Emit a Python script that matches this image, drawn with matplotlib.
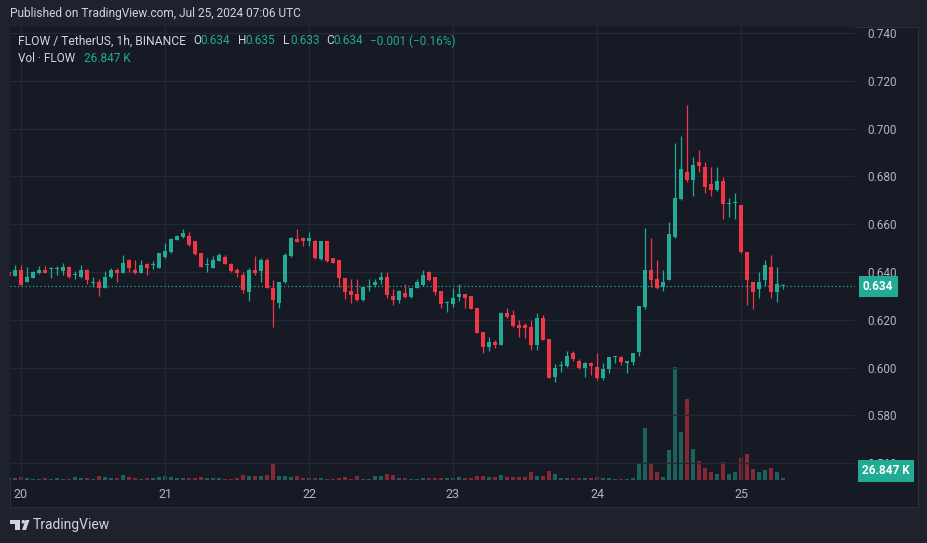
import numpy as np
import pandas as pd
import matplotlib
matplotlib.use('Agg')
import matplotlib.pyplot as plt
import matplotlib.transforms as mtransforms
from matplotlib.patches import Rectangle, Circle, Polygon

# FLOW/USDT 1h candles, Jul 19 22:00 -> Jul 25 07:00
opens = [0.6399, 0.6385, 0.6408, 0.6357, 0.6376, 0.6394, 0.6408, 0.6414, 0.6412, 0.6406,
         0.6422, 0.6387, 0.6378, 0.6408, 0.6356, 0.6360, 0.6334, 0.6378, 0.6408, 0.6397,
         0.6450, 0.6408, 0.6397, 0.6432, 0.6428, 0.6418, 0.6464, 0.6482, 0.6534, 0.6548,
         0.6552, 0.6530, 0.6478, 0.6428, 0.6418, 0.6447, 0.6461, 0.6432, 0.6408, 0.6387,
         0.6318, 0.6408, 0.6404, 0.6450, 0.6334, 0.6270, 0.6357, 0.6467, 0.6538, 0.6541,
         0.6530, 0.6530, 0.6454, 0.6530, 0.6457, 0.6450, 0.6373, 0.6322, 0.6308, 0.6283,
         0.6337, 0.6346, 0.6367, 0.6380, 0.6301, 0.6283, 0.6311, 0.6297, 0.6334, 0.6346,
         0.6401, 0.6378, 0.6320, 0.6271, 0.6265, 0.6297, 0.6306, 0.6300, 0.6251, 0.6150,
         0.6088, 0.6106, 0.6095, 0.6227, 0.6220, 0.6178, 0.6178, 0.6171, 0.6095, 0.6209,
         0.6119, 0.5962, 0.6008, 0.6007, 0.6062, 0.6029, 0.5997, 0.6018, 0.6001, 0.5955,
         0.5993, 0.6043, 0.6043, 0.6018, 0.6025, 0.6067, 0.6255, 0.6408, 0.6369, 0.6336,
         0.6367, 0.6545, 0.6705, 0.6820, 0.6785, 0.6862, 0.6841, 0.6768, 0.6743, 0.6782,
         0.6686, 0.6687, 0.6680, 0.6485, 0.6360, 0.6327, 0.6367, 0.6422, 0.6318, 0.6340]
highs = [0.6399, 0.6429, 0.6429, 0.6422, 0.6404, 0.6427, 0.6427, 0.6422, 0.6427, 0.6436,
         0.6427, 0.6404, 0.6429, 0.6411, 0.6380, 0.6371, 0.6404, 0.6418, 0.6418, 0.6471,
         0.6453, 0.6450, 0.6450, 0.6436, 0.6446, 0.6478, 0.6520, 0.6541, 0.6555, 0.6580,
         0.6569, 0.6530, 0.6478, 0.6457, 0.6468, 0.6478, 0.6471, 0.6436, 0.6418, 0.6401,
         0.6418, 0.6468, 0.6457, 0.6457, 0.6367, 0.6360, 0.6478, 0.6548, 0.6579, 0.6548,
         0.6569, 0.6534, 0.6530, 0.6530, 0.6457, 0.6450, 0.6376, 0.6371, 0.6371, 0.6339,
         0.6371, 0.6371, 0.6401, 0.6401, 0.6329, 0.6325, 0.6348, 0.6334, 0.6371, 0.6408,
         0.6406, 0.6380, 0.6320, 0.6279, 0.6332, 0.6348, 0.6306, 0.6300, 0.6251, 0.6150,
         0.6129, 0.6115, 0.6231, 0.6248, 0.6241, 0.6199, 0.6185, 0.6199, 0.6227, 0.6220,
         0.6119, 0.6014, 0.6028, 0.6071, 0.6071, 0.6034, 0.6025, 0.6025, 0.6062, 0.6018,
         0.6046, 0.6048, 0.6048, 0.6029, 0.6062, 0.6258, 0.6583, 0.6541, 0.6450, 0.6408,
         0.6611, 0.6941, 0.6969, 0.7099, 0.6880, 0.6911, 0.6862, 0.6841, 0.6841, 0.6796,
         0.6708, 0.6729, 0.6680, 0.6485, 0.6360, 0.6401, 0.6450, 0.6471, 0.6422, 0.6350]
lows = [0.6385, 0.6385, 0.6346, 0.6357, 0.6373, 0.6390, 0.6394, 0.6373, 0.6387, 0.6387,
        0.6376, 0.6371, 0.6376, 0.6348, 0.6339, 0.6301, 0.6332, 0.6376, 0.6360, 0.6394,
        0.6399, 0.6390, 0.6394, 0.6387, 0.6413, 0.6415, 0.6457, 0.6478, 0.6534, 0.6544,
        0.6510, 0.6471, 0.6420, 0.6401, 0.6415, 0.6446, 0.6432, 0.6401, 0.6380, 0.6311,
        0.6279, 0.6387, 0.6360, 0.6332, 0.6171, 0.6248, 0.6353, 0.6464, 0.6524, 0.6510,
        0.6510, 0.6454, 0.6450, 0.6443, 0.6436, 0.6339, 0.6287, 0.6269, 0.6278, 0.6280,
        0.6322, 0.6339, 0.6348, 0.6290, 0.6262, 0.6269, 0.6293, 0.6290, 0.6332, 0.6343,
        0.6362, 0.6304, 0.6251, 0.6231, 0.6255, 0.6279, 0.6251, 0.6245, 0.6143, 0.6060,
        0.6069, 0.6081, 0.6095, 0.6209, 0.6171, 0.6129, 0.6122, 0.6074, 0.6074, 0.6115,
        0.5958, 0.5941, 0.5983, 0.6001, 0.6029, 0.5993, 0.5962, 0.5969, 0.5948, 0.5948,
        0.5979, 0.6018, 0.6011, 0.5979, 0.6011, 0.6048, 0.6244, 0.6339, 0.6327, 0.6322,
        0.6365, 0.6541, 0.6703, 0.6778, 0.6718, 0.6820, 0.6732, 0.6718, 0.6740, 0.6620,
        0.6632, 0.6620, 0.6478, 0.6262, 0.6244, 0.6290, 0.6341, 0.6290, 0.6276, 0.6330]
closes = [0.6385, 0.6408, 0.6346, 0.6380, 0.6401, 0.6408, 0.6397, 0.6416, 0.6414, 0.6422,
          0.6380, 0.6389, 0.6408, 0.6367, 0.6358, 0.6334, 0.6380, 0.6408, 0.6394, 0.6436,
          0.6418, 0.6394, 0.6429, 0.6418, 0.6430, 0.6478, 0.6488, 0.6538, 0.6552, 0.6562,
          0.6513, 0.6474, 0.6422, 0.6431, 0.6450, 0.6471, 0.6433, 0.6404, 0.6394, 0.6325,
          0.6408, 0.6394, 0.6450, 0.6332, 0.6283, 0.6357, 0.6471, 0.6541, 0.6527, 0.6530,
          0.6541, 0.6457, 0.6530, 0.6446, 0.6436, 0.6376, 0.6318, 0.6304, 0.6283, 0.6339,
          0.6340, 0.6360, 0.6380, 0.6304, 0.6283, 0.6320, 0.6297, 0.6332, 0.6360, 0.6387,
          0.6367, 0.6318, 0.6265, 0.6274, 0.6290, 0.6306, 0.6293, 0.6245, 0.6143, 0.6088,
          0.6106, 0.6095, 0.6227, 0.6213, 0.6175, 0.6167, 0.6167, 0.6095, 0.6209, 0.6115,
          0.5958, 0.5997, 0.6011, 0.6048, 0.6034, 0.5997, 0.6021, 0.6007, 0.5955, 0.5993,
          0.6043, 0.6045, 0.6025, 0.6029, 0.6062, 0.6258, 0.6408, 0.6367, 0.6332, 0.6360,
          0.6559, 0.6708, 0.6831, 0.6785, 0.6848, 0.6844, 0.6757, 0.6743, 0.6782, 0.6685,
          0.6689, 0.6690, 0.6485, 0.6367, 0.6318, 0.6360, 0.6429, 0.6318, 0.6350, 0.6340]
# volume in thousands of FLOW
volumes = [27, 27, 54, 27, 21, 21, 32, 21, 27, 21,
           11, 43, 32, 27, 16, 70, 43, 27, 38, 86,
           43, 38, 21, 32, 38, 48, 64, 48, 32, 27,
           27, 38, 54, 32, 27, 32, 21, 21, 27, 86,
           64, 59, 59, 75, 268, 64, 70, 54, 70, 27,
           38, 27, 32, 16, 21, 38, 48, 21, 64, 21,
           21, 64, 64, 91, 75, 38, 38, 21, 21, 32,
           27, 32, 32, 27, 32, 54, 38, 27, 70, 70,
           43, 43, 75, 43, 43, 43, 43, 134, 59, 59,
           140, 91, 32, 38, 27, 27, 38, 38, 54, 27,
           38, 16, 16, 21, 38, 268, 843, 279, 134, 54,
           489, 1815, 779, 1310, 505, 311, 199, 134, 97, 295,
           91, 134, 360, 424, 172, 134, 166, 199, 124, 26.847]
day_labels = ['20', '21', '22', '23', '24', '25']
price_ticks = [0.56, 0.58, 0.60, 0.62, 0.64, 0.66, 0.68, 0.70, 0.72, 0.74]

UP = '#22ab94'
DOWN = '#f23645'
BG = '#161a25'
FRAME = '#1e222d'
GRID = '#242833'
TXT = '#b2b5be'
LIGHT = '#d1d4dc'

plt.rcParams['font.family'] = ['Roboto', 'DejaVu Sans']

o = np.array(opens)
h = np.array(highs)
l = np.array(lows)
c = np.array(closes)
v = np.array(volumes)
t0 = pd.Timestamp('2024-07-20 00:00')
times = pd.date_range('2024-07-19 22:00', periods=len(o), freq='h')
x = ((times - t0) / pd.Timedelta('1h')).to_numpy()
up = c >= o
cols = np.where(up, UP, DOWN)

W, H = 928, 543
fig = plt.figure(figsize=(W / 100, H / 100), dpi=100, facecolor=FRAME)
# pixel coords (origin top-left) for the frame decorations
tpx = mtransforms.Affine2D().scale(1 / W, -1 / H).translate(0, 1) + fig.transFigure

fig.patches.append(Rectangle((10, 27), 908, 480, transform=tpx, fc=BG, ec='#2a2e39',
                             lw=0.8, zorder=0))

rect = [10 / W, 1 - 480 / H, 845 / W, 453 / H]
ax_v = fig.add_axes(rect)
ax = fig.add_axes(rect, sharex=ax_v)
ax_v.set_zorder(1)
ax.set_zorder(2)
ax_v.set_facecolor(BG)
ax.patch.set_visible(False)

# volume
ax_v.bar(x, v, width=0.72, color=cols, alpha=0.5, lw=0)
ax_v.set_ylim(0, 7300)
ax_v.tick_params(axis='both', which='both', bottom=False, left=False,
                 labelbottom=False, labelleft=False)
for s in ax_v.spines.values():
    s.set_visible(False)

# candles
ax.vlines(x, l, h, colors=cols, lw=0.9, zorder=3)
ax.bar(x, np.maximum(np.abs(c - o), 0.0004), bottom=np.minimum(o, c), width=0.72,
       color=cols, lw=0, zorder=4)

ax.set_xlim(-11 / 6, 834 / 6)
ax.set_ylim(0.55297, 0.7425)
for s in ax.spines.values():
    s.set_visible(False)

day_x = ((pd.date_range('2024-07-20', periods=len(day_labels), freq='D') - t0) / pd.Timedelta('1h')).to_numpy()
ax.set_xticks(day_x)
ax.set_xticklabels(day_labels)
ax.set_yticks(price_ticks)
ax.set_yticklabels([f'{p:.3f}' for p in price_ticks])
ax.yaxis.tick_right()
ax.tick_params(axis='y', length=0, pad=9, labelcolor=TXT, labelsize=8.5)
ax.tick_params(axis='x', length=0, pad=6, labelcolor=TXT, labelsize=9)
ax.grid(True, color=GRID, lw=1)
ax.set_axisbelow(True)

# last price line and labels
ax.axhline(c[-1], color=UP, lw=0.9, ls=(0, (1, 2)), zorder=2)
blend = mtransforms.blended_transform_factory(ax.transAxes, ax.transData)
ax.text(1 + 8 / 845, c[-1], f'{c[-1]:.3f}', transform=blend, ha='left', va='center',
        color='white', fontsize=8.5, fontweight='bold', clip_on=False, zorder=6,
        bbox=dict(boxstyle='square,pad=0.35', fc=UP, ec='none'))
ax.text(1 + 7 / 845, 9 / 453, f'{v[-1]:.3f} K', transform=ax.transAxes, ha='left',
        va='center', color='white', fontsize=8.5, fontweight='bold', clip_on=False,
        zorder=6, bbox=dict(boxstyle='square,pad=0.35', fc=UP, ec='none'))

# header and legend
fig.text(10, 14, 'Published on TradingView.com, Jul 25, 2024 07:06 UTC', transform=tpx,
         color=LIGHT, fontsize=8.6, va='center')
fig.text(18, 41, 'FLOW / TetherUS, 1h, BINANCE', transform=tpx, color=LIGHT,
         fontsize=8.7, va='center')
chg = c[-1] - c[-2]
pct = chg / c[-2] * 100
lcol = UP if up[-1] else DOWN
for px, lab, val in [(193, 'O', o[-1]), (238, 'H', h[-1]), (283, 'L', l[-1]), (326, 'C', c[-1])]:
    fig.text(px, 41, lab, transform=tpx, color=LIGHT, fontsize=8.5, va='center')
    fig.text(px + 7, 41, f'{val:.3f}', transform=tpx, color=lcol, fontsize=8.5, va='center')
fig.text(370, 41, f'{chg:+.3f} ({pct:+.2f}%)'.replace('-', '\u2212'), transform=tpx,
         color=lcol, fontsize=8.5, va='center')
fig.text(18, 59, 'Vol \u00b7 FLOW', transform=tpx, color=LIGHT, fontsize=8.5, va='center')
fig.text(84, 59, f'{v[-1]:.3f} K', transform=tpx, color=lcol, fontsize=8.5, va='center')

# TradingView logo
logo = '#d1d4dc'
fig.patches.append(Rectangle((10, 520), 10.5, 3.5, transform=tpx, fc=logo, ec='none'))
fig.patches.append(Rectangle((15.5, 520), 5, 10, transform=tpx, fc=logo, ec='none'))
fig.patches.append(Circle((23.3, 521.8), 1.8, transform=tpx, fc=logo, ec='none'))
fig.patches.append(Polygon([(25.5, 520), (29.5, 520), (26, 530), (22, 530)], transform=tpx,
                           fc=logo, ec='none'))
fig.text(33, 525, 'TradingView', transform=tpx, color=logo, fontsize=10, va='center')

fig.savefig('out.png', dpi=100, facecolor=FRAME)
